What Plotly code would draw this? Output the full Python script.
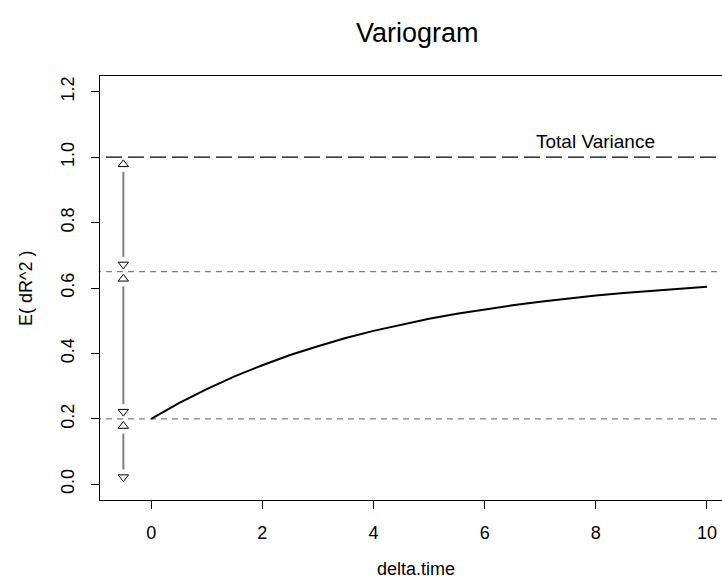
import plotly.graph_objects as go

# Fitted variogram curve: expected squared displacement vs lag
delta_time = [0, 0.5, 1, 1.5, 2, 2.5, 3, 3.5, 4, 4.5, 5,
              5.5, 6, 6.5, 7, 7.5, 8, 8.5, 9, 9.5, 10]
e_dr2 = [0.200, 0.248, 0.291, 0.330, 0.364, 0.395, 0.422, 0.447, 0.469, 0.488, 0.506,
         0.521, 0.535, 0.547, 0.558, 0.568, 0.577, 0.585, 0.592, 0.598, 0.604]

# Reference levels
total_variance = 1.0
sill = 0.65
nugget = 0.2
floor_level = 0.0

# Variance components shown as double-headed arrows at this lag
arrow_x = -0.5
arrow_bounds = [(total_variance, sill), (sill, nugget), (nugget, floor_level)]

x_ticks = [0, 2, 4, 6, 8, 10]
y_ticks = [0.0, 0.2, 0.4, 0.6, 0.8, 1.0, 1.2]
y_tick_text = ["0.0", "0.2", "0.4", "0.6", "0.8", "1.0", "1.2"]

FONT = "Liberation Sans, Arial, Helvetica, sans-serif"
GREY = "#7f7f7f"

fig = go.Figure()

# Horizontal reference lines
fig.add_trace(go.Scatter(x=[-2, 12], y=[total_variance, total_variance], mode="lines",
                         line=dict(color="black", width=1.2, dash="16px,6px"),
                         hoverinfo="skip", showlegend=False))
for lvl in (sill, nugget):
    fig.add_trace(go.Scatter(x=[-2, 12], y=[lvl, lvl], mode="lines",
                             line=dict(color=GREY, width=1.2, dash="6px,5px"),
                             hoverinfo="skip", showlegend=False))

# Variogram curve
fig.add_trace(go.Scatter(x=delta_time, y=e_dr2, mode="lines",
                         line=dict(color="black", width=2),
                         showlegend=False))

# Component arrows: shaft plus open triangle heads
head_off = 0.022
shaft_off = 0.045
for top, bottom in arrow_bounds:
    fig.add_trace(go.Scatter(x=[arrow_x, arrow_x], y=[top - shaft_off, bottom + shaft_off],
                             mode="lines", line=dict(color=GREY, width=2),
                             hoverinfo="skip", showlegend=False))
    fig.add_trace(go.Scatter(x=[arrow_x], y=[top - head_off], mode="markers",
                             marker=dict(symbol="triangle-up-open", size=9,
                                         color="black", line=dict(width=1)),
                             hoverinfo="skip", showlegend=False))
    fig.add_trace(go.Scatter(x=[arrow_x], y=[bottom + head_off], mode="markers",
                             marker=dict(symbol="triangle-down-open", size=9,
                                         color="black", line=dict(width=1)),
                             hoverinfo="skip", showlegend=False))

fig.add_annotation(x=8, y=total_variance, yshift=16, text="Total Variance",
                   showarrow=False, xref="x", yref="y", yanchor="middle",
                   font=dict(family=FONT, size=19, color="black"))

# Title and axis labels
fig.add_annotation(x=0.51, y=1.101, xref="paper", yref="paper", text="Variogram",
                   xanchor="center", yanchor="middle", showarrow=False,
                   font=dict(family=FONT, size=27, color="black"))
fig.add_annotation(x=0.508, y=-0.163, xref="paper", yref="paper", text="delta.time",
                   xanchor="center", yanchor="middle", showarrow=False,
                   font=dict(family=FONT, size=18, color="black"))
fig.add_annotation(x=-0.119, y=0.5, xref="paper", yref="paper", text="E( dR^2 )",
                   xanchor="center", yanchor="middle", textangle=-90, showarrow=False,
                   font=dict(family=FONT, size=18, color="black"))

fig.update_layout(
    width=722, height=578,
    margin=dict(l=100, r=0, t=76, b=78),
    paper_bgcolor="white", plot_bgcolor="white",
    font=dict(family=FONT, size=18, color="black"),
    showlegend=False,
)
fig.update_xaxes(range=[-0.92, 10.27], tickvals=x_ticks, ticks="outside", ticklen=8,
                 tickcolor="black", showline=True, linecolor="black", linewidth=1,
                 mirror=True, showgrid=False, zeroline=False,
                 tickfont=dict(family=FONT, size=18), ticklabelstandoff=8)
fig.update_yaxes(range=[-0.048, 1.248], tickvals=y_ticks, ticktext=y_tick_text,
                 ticks="outside", ticklen=8, tickcolor="black", tickangle=-90,
                 showline=True, linecolor="black", linewidth=1, mirror=False,
                 showgrid=False, zeroline=False,
                 tickfont=dict(family=FONT, size=18), ticklabelstandoff=10)

fig.write_html("out.html")
